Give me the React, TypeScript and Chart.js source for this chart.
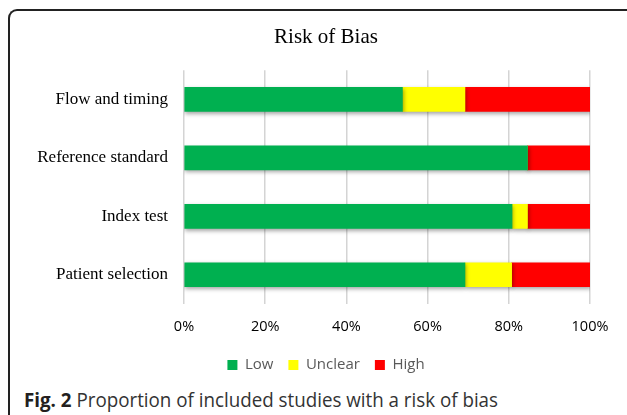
import React, { useEffect, useRef, useState } from "react";
import { Chart, registerables } from "chart.js";

Chart.register(...registerables);

const categories = ["Flow and timing", "Reference standard", "Index test", "Patient selection"];
const lowValues = [53.8, 84.6, 80.8, 69.2];
const unclearValues = [15.4, 0, 3.8, 11.5];
const highValues = [30.8, 15.4, 15.4, 19.3];
const seriesNames = ["Low", "Unclear", "High"];
const seriesColors = ["#00B050", "#FFFF00", "#FF0000"];
const xTicks = [0, 20, 40, 60, 80, 100];

const shadowPlugin = {
  id: "barShadow",
  afterLayout(chart: any) {
    const y = chart.scales.y;
    if (y) {
      y.left = 0;
      y.width = y.right;
    }
  },
  beforeDatasetsDraw(chart: any) {
    const ctx = chart.ctx;
    ctx.save();
    ctx.shadowColor = "rgba(0,0,0,0.35)";
    ctx.shadowBlur = 4;
    ctx.shadowOffsetX = 1;
    ctx.shadowOffsetY = 2;
  },
  afterDatasetsDraw(chart: any) {
    chart.ctx.restore();
  },
};

export default function App() {
  const canvasRef = useRef<HTMLCanvasElement | null>(null);
  const capRef = useRef<HTMLSpanElement | null>(null);
  const [capScale, setCapScale] = useState(1);

  useEffect(() => {
    if (capRef.current) {
      const w = capRef.current.getBoundingClientRect().width;
      if (w > 0) setCapScale(474 / w);
    }
  }, []);

  useEffect(() => {
    const canvas = canvasRef.current;
    if (!canvas) return;
    const chart = new Chart(canvas, {
      type: "bar",
      data: {
        labels: categories,
        datasets: [lowValues, unclearValues, highValues].map((vals, i) => ({
          label: seriesNames[i],
          data: vals,
          backgroundColor: seriesColors[i],
          borderWidth: 0,
          barThickness: 24,
        })),
      },
      options: {
        indexAxis: "y",
        responsive: false,
        animation: false,
        layout: { padding: { left: 62, right: 37, top: 0, bottom: 2.5 } },
        plugins: {
          title: {
            display: true,
            text: "Risk of Bias",
            color: "#000",
            font: { family: "'Liberation Serif'", size: 21, weight: "normal" },
            padding: { top: 25, bottom: 20 },
          },
          legend: {
            display: true,
            position: "bottom",
            labels: {
              boxWidth: 10,
              boxHeight: 10,
              padding: 15,
              color: "#595959",
              font: { family: "'Open Sans'", size: 15 },
            },
          },
          tooltip: { enabled: false },
        },
        scales: {
          x: {
            stacked: true,
            min: 0,
            max: 100,
            afterBuildTicks: (scale: any) => {
              scale.ticks = xTicks.map((v) => ({ value: v }));
            },
            afterFit: (scale: any) => {
              scale.height = 38.5;
            },
            ticks: {
              color: "#000",
              padding: 14,
              font: { family: "'Open Sans'", size: 14.5 },
              callback: (v: any) => v + "%",
            },
            grid: { color: "#d4d4d4", lineWidth: 1.5, drawTicks: false },
            border: { display: false },
          },
          y: {
            stacked: true,
            afterFit: (scale: any) => {
              scale.width = 122;
            },
            ticks: {
              color: "#000",
              padding: 16,
              font: { family: "'Liberation Serif'", size: 17 },
            },
            grid: { display: false, drawTicks: false },
            border: { display: false },
          },
        },
      },
      plugins: [shadowPlugin],
    } as any);
    return () => chart.destroy();
  }, []);

  return (
    <div style={{ position: "absolute", left: 0, top: 0, width: 627, height: 415, background: "#fff", overflow: "hidden" }}>
      <div
        style={{
          position: "absolute",
          left: 8,
          top: 9,
          width: 640,
          height: 430,
          borderTop: "2px solid #222",
          borderLeft: "2px solid #222",
          borderTopLeftRadius: 9,
          boxSizing: "border-box",
        }}
      />
      <canvas ref={canvasRef} width={627} height={385} style={{ position: "absolute", left: 0, top: 0 }} />
      <div
        style={{
          position: "absolute",
          left: 24,
          top: 388,
          fontFamily: "'Open Sans'",
          fontSize: 20,
          lineHeight: "24px",
          color: "#231f20",
          whiteSpace: "nowrap",
          transformOrigin: "left top",
          transform: `scaleX(${capScale})`,
        }}
      >
        <span ref={capRef}>
          <b>Fig. 2</b> <span style={{ color: "#333" }}>Proportion of included studies with a risk of bias</span>
        </span>
      </div>
    </div>
  );
}
